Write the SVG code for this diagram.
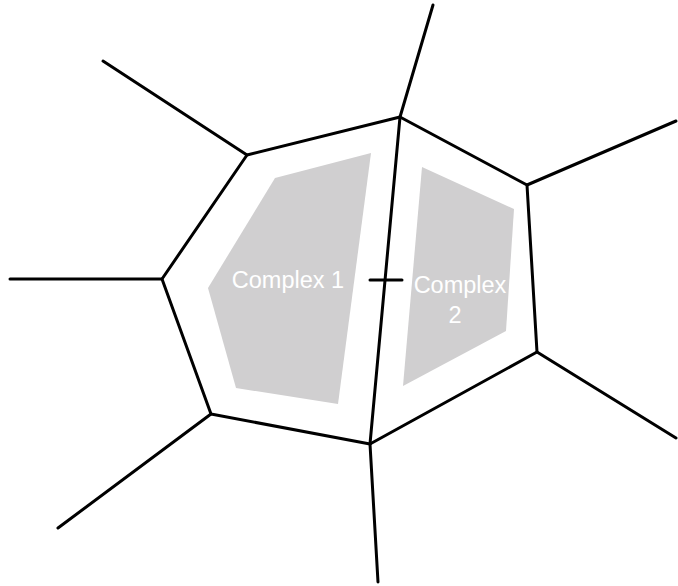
<svg xmlns="http://www.w3.org/2000/svg" width="678" height="586" viewBox="0 0 678 586">
<style>
.e{stroke:#000;stroke-width:3;fill:none;stroke-linecap:round;stroke-linejoin:round}
.c{fill:#d0cfd0;stroke:none}
.t{fill:#fff;font-family:"Liberation Sans",Arial,sans-serif;font-size:23.5px;text-anchor:middle}
</style>
<rect width="678" height="586" fill="#fff"/>
<g id="complex1">
<polygon class="c" points="275,178 371,153 338,404 236,388 208,288"/>
<text class="t" x="288" y="288">Complex 1</text>
</g>
<g id="complex2">
<polygon class="c" points="422,167 514,209 506,331 403,386"/>
<text class="t" x="460" y="293">Complex</text>
<text class="t" x="455" y="323">2</text>
</g>
<g id="connectors">
<polygon class="e" points="247,155 400,117 527,185 537,352 370,444 211,414 162,279"/>
<line class="e" x1="400" y1="117" x2="370" y2="444"/>
<line class="e" x1="247" y1="155" x2="103" y2="61"/>
<line class="e" x1="162" y1="279" x2="10" y2="279"/>
<line class="e" x1="211" y1="414" x2="58" y2="528"/>
<line class="e" x1="370" y1="444" x2="378" y2="582"/>
<line class="e" x1="537" y1="352" x2="676" y2="438"/>
<line class="e" x1="527" y1="185" x2="676" y2="121"/>
<line class="e" x1="400" y1="117" x2="433" y2="5"/>
<line class="e" x1="370" y1="280" x2="402" y2="280"/>
</g>
</svg>
